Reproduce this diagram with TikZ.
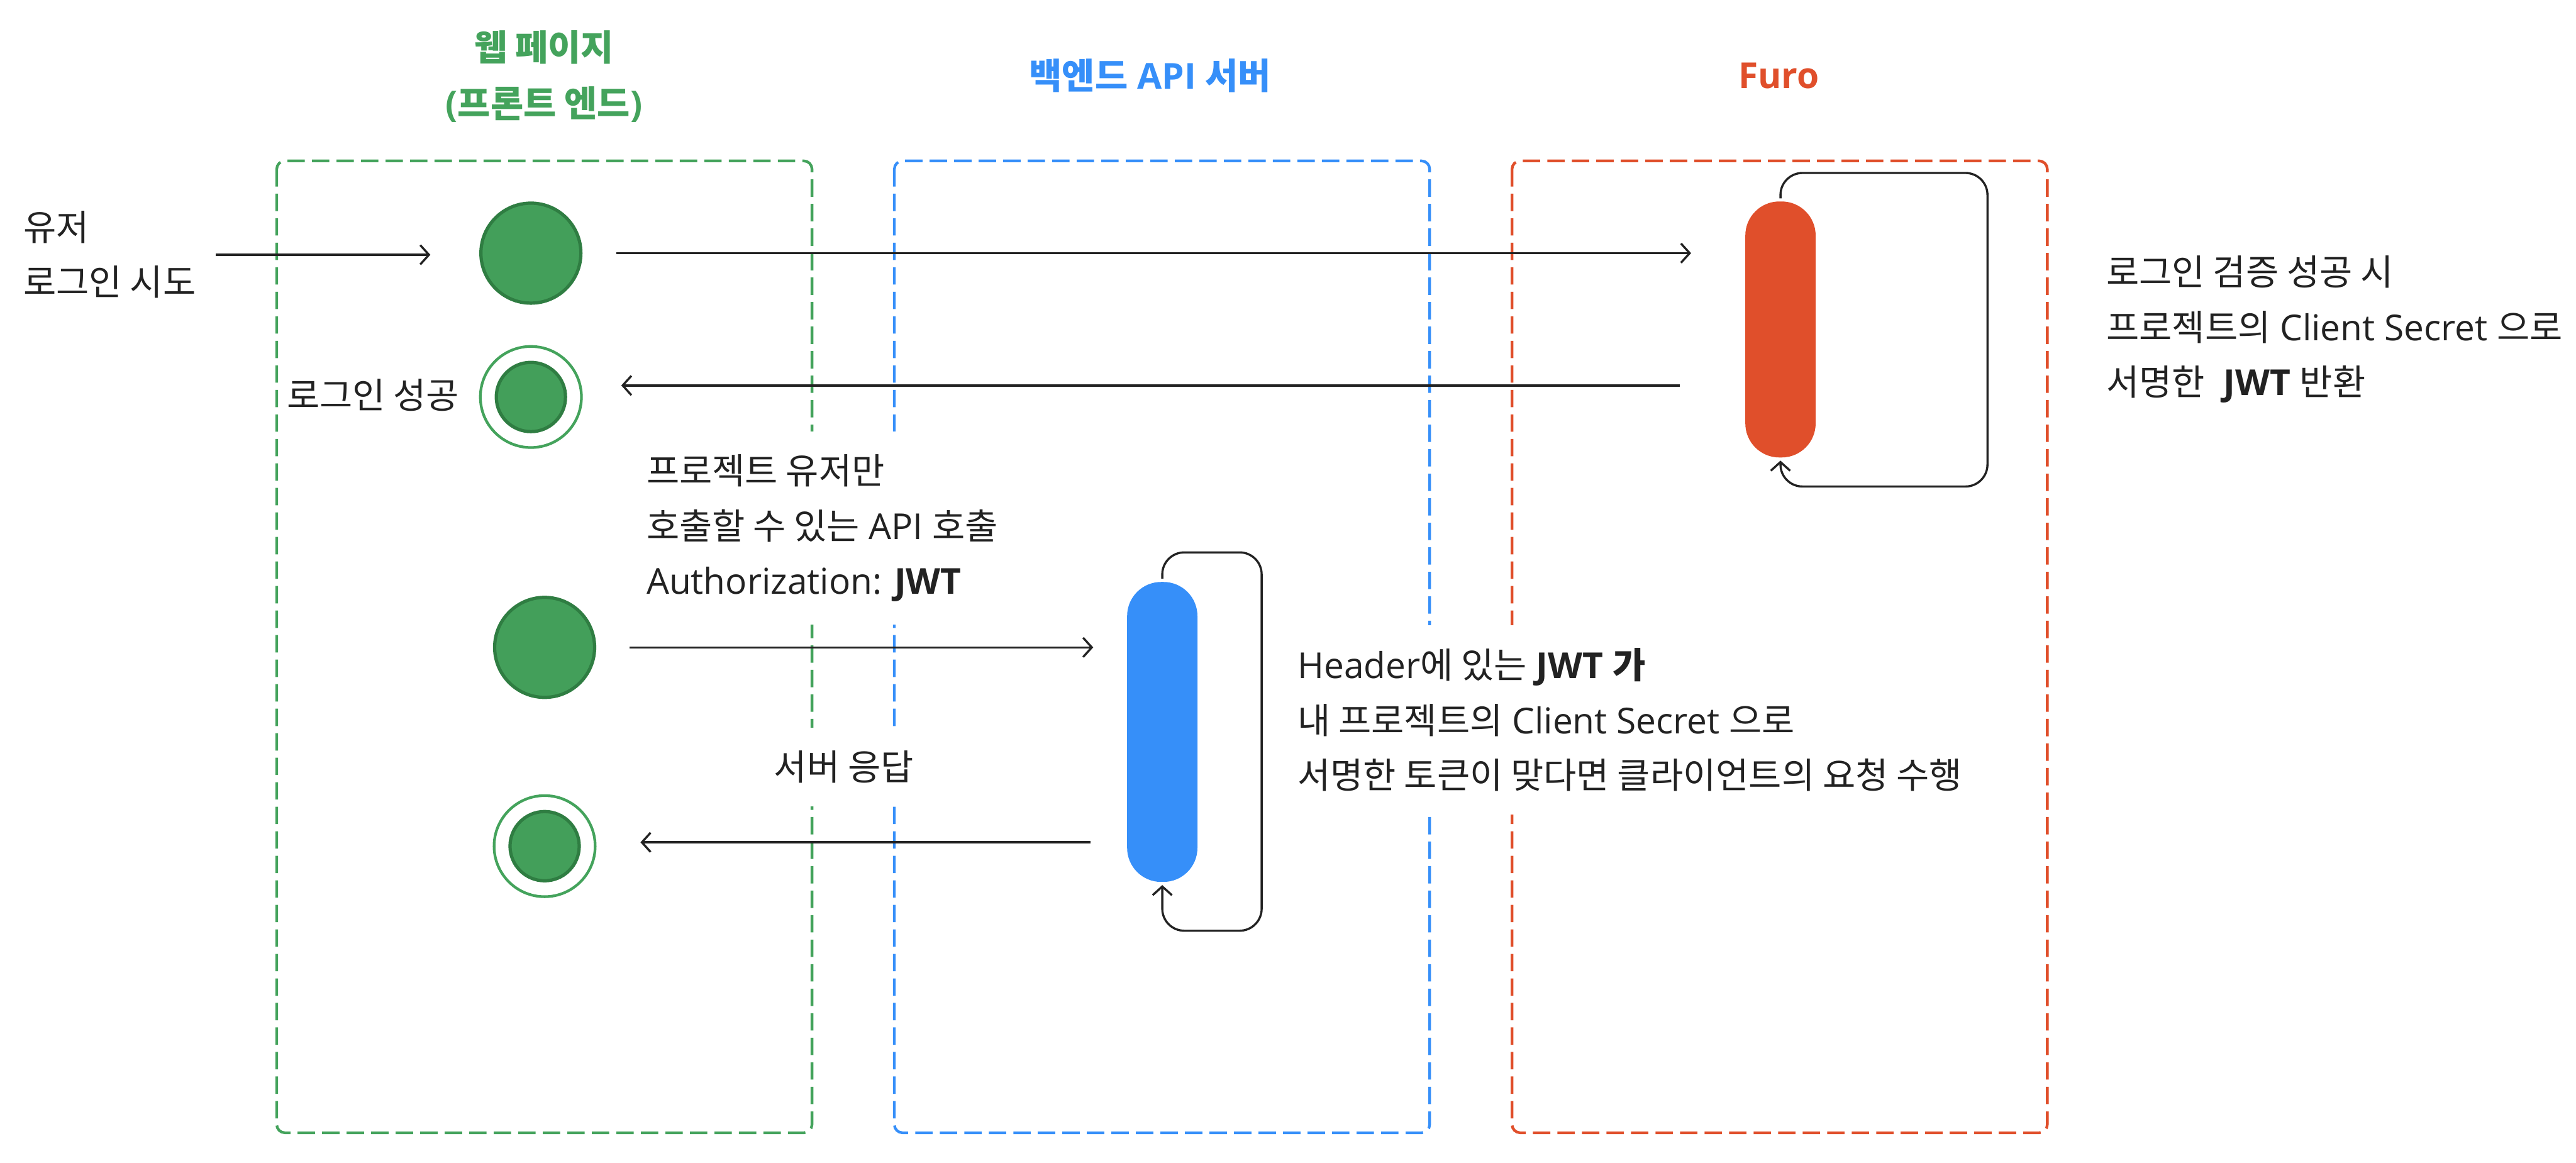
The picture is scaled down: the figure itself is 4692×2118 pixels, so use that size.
\documentclass[tikz,border=0pt]{standalone}
\usepackage{fontspec}
\setmainfont{Open Sans}
\newfontfamily\kr{Noto Sans CJK KR}[Scale=1.0]
\usetikzlibrary{arrows.meta}
\definecolor{gfill}{HTML}{439F5A}
\definecolor{gdark}{HTML}{2F7D42}
\definecolor{gline}{HTML}{44A35C}
\definecolor{bline}{HTML}{368FF9}
\definecolor{rline}{HTML}{E04F2B}
\definecolor{ink}{HTML}{222222}
\begin{document}
\begin{tikzpicture}[x=0.01cm,y=-0.01cm,
  every node/.style={text=ink},
  lane/.style={draw, line width=1.4pt, dash pattern=on 9pt off 3.7pt, rounded corners=0.15cm},
  body/.style={font=\fontsize{18.5}{28.45}\selectfont, align=left, inner sep=0pt},
  title/.style={font=\fontsize{18.5}{29}\selectfont\bfseries, align=center, inner sep=0pt},
  mask/.style={fill=white, inner xsep=0.2cm, inner ysep=0.42cm},
  conn/.style={draw=ink, line width=1.1pt},
  tip/.style={-{Straight Barb[length=4.5pt,width=10pt]}},
  arr/.style={conn, tip},
  startstate/.style={circle, fill=gfill, draw=gdark, line width=1.7pt, minimum size=1.82cm, inner sep=0pt},
  endouter/.style={circle, draw=gline, line width=1.4pt, minimum size=1.84cm, inner sep=0pt},
  endinner/.style={circle, fill=gfill, draw=gdark, line width=1.7pt, minimum size=1.26cm, inner sep=0pt},
  bar/.style={rectangle, rounded corners=0.62cm, minimum width=1.28cm, inner sep=0pt},
]
\useasboundingbox (0,0) rectangle (4692,2118);

% lanes
\draw[lane, draw=gline] (504,293) rectangle (1479,2063);
\draw[lane, draw=bline] (1629,293) rectangle (2604,2063);
\draw[lane, draw=rline] (2754,293) rectangle (3729,2063);

% titles
\node[title, text=gline] (tweb) at (991,139) {{\kr 웹 페이지}\\({\kr 프론트 엔드})};
\node[title, text=bline] (tapi) at (2095,138) {{\kr 백엔드} API {\kr 서버}};
\node[title, text=rline] (tfuro) at (3240,138) {Furo};

% masked labels
\node[body, mask, anchor=west] (proj) at (1157,962) {{\kr 프로젝트 유저만}\\{\kr 호출할 수 있는} API {\kr 호출}\\Authorization: \textbf{JWT}};
\node[body, mask] (resp) at (1537,1397) {{\kr 서버 응답}};
\node[body, mask, anchor=west] (hdr) at (2343,1311) {Header{\kr 에 있는} \textbf{JWT {\kr 가}}\\{\kr 내 프로젝트의} Client Secret {\kr 으로}\\{\kr 서명한 토큰이 맞다면 클라이언트의 요청 수행}};

% other labels
\node[body, anchor=west] (user) at (42,464) {{\kr 유저}\\{\kr 로그인 시도}};
\node[body, anchor=east] (lsucc) at (837,720) {{\kr 로그인 성공}};
\node[body, anchor=west] (ftxt) at (3836,600) {{\kr 로그인 검증 성공 시}\\{\kr 프로젝트의} Client Secret {\kr 으로}\\{\kr 서명한}~ \textbf{JWT} {\kr 반환}};

% states
\node[startstate] (c1) at (967,461) {};
\node[endouter] (c2) at (967,723) {};
\node[endinner] (c2in) at (c2) {};
\node[startstate] (c3) at (992,1179) {};
\node[endouter] (c4) at (992,1541) {};
\node[endinner] (c4in) at (c4) {};

% activation bars
\node[bar, fill=rline, minimum height=4.66cm] (rbar) at (3243,600) {};
\node[bar, fill=bline, minimum height=5.46cm] (bbar) at (2117,1333) {};

% helper coordinates
\coordinate (y3) at (0,702);
\coordinate (y5) at (0,1534);
\coordinate (rl1) at (3620,315);
\coordinate (rl2) at (3620,886);
\coordinate (bl1) at (2298,1006);
\coordinate (bl2) at (2298,1695);

% messages
\draw[arr, shorten <=0.36cm, shorten >=0.89cm] (user.east) -- (user.east -| c1.west);
\draw[arr, shorten <=0.61cm, shorten >=0.98cm] (c1.east) -- (c1.east -| rbar.west);
\draw[arr, shorten <=1.19cm, shorten >=0.70cm] (rbar.west |- y3) -- (c2.east |- y3);
\draw[arr, shorten <=0.61cm, shorten >=0.61cm] (c3.east) -- (c3.east -| bbar.west);
\draw[arr, shorten <=0.66cm, shorten >=0.80cm] (bbar.west |- y5) -- (c4.east |- y5);

% self loops
\draw[conn, tip, rounded corners=0.4cm] ([yshift=0.05cm]rbar.north) |- (rl1) -- (rl2) -| ([yshift=-0.05cm]rbar.south);
\draw[conn, tip, rounded corners=0.4cm] ([yshift=0.05cm]bbar.north) |- (bl1) -- (bl2) -| ([yshift=-0.05cm]bbar.south);
\end{tikzpicture}
\end{document}
